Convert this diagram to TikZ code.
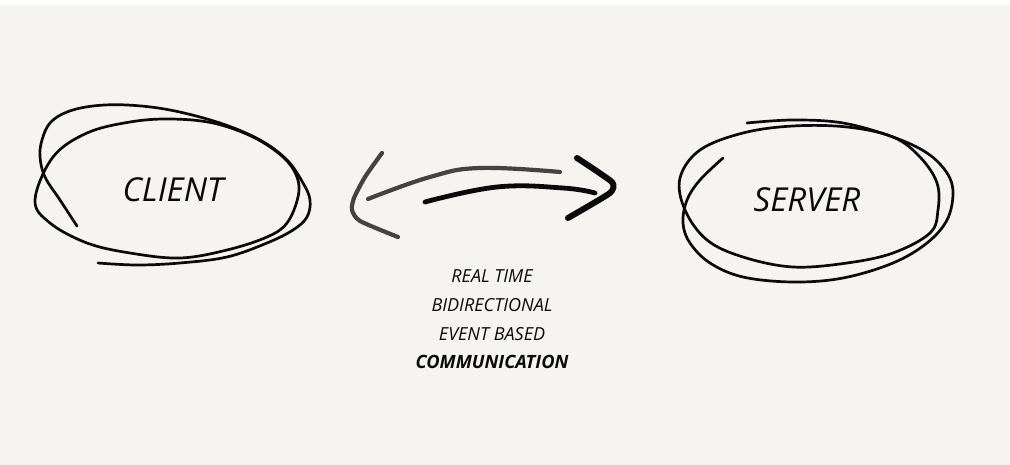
\documentclass[tikz,border=0pt]{standalone}
\usepackage{fontspec}
\setmainfont{Open Sans}
\definecolor{bg}{HTML}{F5F4F0}
\definecolor{penblack}{HTML}{0A0A0A}
\definecolor{pengray}{HTML}{45433F}
\begin{document}
\begin{tikzpicture}[x=1pt,y=-1pt,
  sketch/.style={draw=penblack,line width=2.7pt,line cap=round,line join=round},
  bigtext/.style={font=\fontsize{33}{33}\selectfont\itshape,text=penblack,inner sep=0pt},
  smalltext/.style={font=\fontsize{18}{18}\selectfont\itshape,text=penblack,inner sep=0pt}]
\useasboundingbox (0,0) rectangle (1010,465);
\fill[white] (0,0) rectangle (1010,5);
\fill[bg] (0,5) rectangle (1010,465);

% CLIENT ellipse strokes
\draw[sketch] plot[smooth,tension=0.6] coordinates {
 (77,226) (60,200) (45,177) (40,157) (42,140) (50,123) (67,112) (93,106) (127,105)
 (170,110) (220,123) (260,140) (287,160) (303,183) (310,200) (307,217) (293,230)
 (267,243) (227,257) (180,263) (137,265) (98,263)};
\draw[sketch] plot[smooth cycle,tension=0.6] coordinates {
 (35,200) (53,157) (87,133) (130,122) (170,119) (213,123) (253,137) (283,157)
 (297,177) (298,197) (287,223) (267,237) (227,250) (180,258) (130,253) (87,243)
 (50,223)};
\node[bigtext] (client) at (173,190) {CLIENT};

% SERVER ellipse strokes
\draw[sketch] plot[smooth,tension=0.6] coordinates {
 (723,158) (700,180) (687,200) (683,223) (690,243) (710,263) (743,277) (793,282)
 (843,278) (893,263) (927,243) (947,220) (953,193) (947,173) (927,153) (893,137)
 (843,123) (793,120) (747,123)};
\draw[sketch] plot[smooth cycle,tension=0.6] coordinates {
 (680,178) (700,150) (743,133) (793,126) (847,127) (893,137) (920,157) (937,183)
 (938,210) (930,233) (893,253) (847,263) (793,267) (743,257) (707,240) (685,210)};
\node[bigtext] (server) at (807,200) {SERVER};

% double arrow
\draw[draw=pengray,line width=4.2pt,line cap=round] plot[smooth,tension=0.7] coordinates {
 (560,172) (480,168) (430,177) (368,199)};
\draw[draw=pengray,line width=4.2pt,line cap=round,line join=round] plot[smooth,tension=0.4] coordinates {
 (382,153) (365,177) (354,198) (352,210) (360,221) (398,237)};
\draw[draw=penblack,line width=4.8pt,line cap=round] plot[smooth,tension=0.7] coordinates {
 (425,202) (497,187) (563,188) (595,193)};
\draw[draw=penblack,line width=6pt,line cap=round,line join=round] plot[smooth,tension=0.3] coordinates {
 (577,158) (612,182) (610,193) (568,218)};

% caption
\node[smalltext] (l1) at (492,276) {REAL TIME};
\node[smalltext] (l2) at (492,305) {BIDIRECTIONAL};
\node[smalltext] (l3) at (492,334) {EVENT BASED};
\node[smalltext,font=\fontsize{18.3}{18.3}\selectfont\itshape\bfseries] (l4) at (492,362) {COMMUNICATION};
\end{tikzpicture}
\end{document}
